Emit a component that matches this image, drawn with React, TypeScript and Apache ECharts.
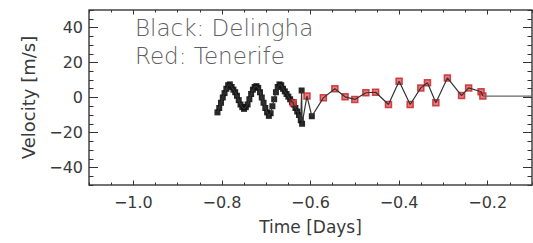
import React, { useEffect, useRef } from "react";
import * as echarts from "echarts";

// Delingha (black) observations: time [days], velocity [m/s]
const delinghaTime = [
  -0.81, -0.806, -0.802, -0.798, -0.794, -0.79, -0.786, -0.782, -0.778, -0.774,
  -0.77, -0.766, -0.762, -0.758, -0.754, -0.75, -0.746, -0.742, -0.738, -0.734,
  -0.73, -0.726, -0.722, -0.718, -0.714, -0.71, -0.706, -0.702, -0.698, -0.694,
  -0.69, -0.686, -0.682, -0.678, -0.674, -0.67, -0.666, -0.662, -0.658, -0.654,
  -0.65, -0.646, -0.642, -0.638, -0.634, -0.63, -0.626, -0.622, -0.62, -0.619,
  -0.597,
];
const delinghaVel = [
  -8.5, -6, -3, 0, 2.5, 5, 7, 7.5, 6, 4.5,
  3, 1, -1.5, -4, -5.5, -6.5, -5.5, -4, -1, 2,
  4.5, 6, 6.5, 5.5, 3, 0, -3, -6, -8.5, -10.5,
  -9, -5, -1, 3, 6, 7.5, 7, 5, 3.5, 2,
  0.5, -1, -2.5, -4, -6, -8, -10, -13, 4, -15,
  -10.7,
];

// Tenerife (red) observations
const tenerifeTime = [
  -0.639, -0.608, -0.571, -0.545, -0.522, -0.5, -0.475, -0.453, -0.424, -0.4,
  -0.375, -0.351, -0.336, -0.317, -0.291, -0.259, -0.243, -0.215, -0.211,
];
const tenerifeVel = [
  -3, 0.8, -0.2, 5, 0.4, -1.1, 2.7, 3, -4, 9.3,
  -4, 5.5, 8.4, -3, 11.2, 1.1, 5.5, 3.3, 0.8,
];

// flat continuation to the right edge
const tailTime = [-0.211, -0.1];
const tailVel = [0.8, 0.8];

const xMajorTicks = [-1.0, -0.8, -0.6, -0.4, -0.2];
const yMajorTicks = [-40, -20, 0, 20, 40];

const FONT = '"DejaVu Sans", sans-serif';

export default function App() {
  const ref = useRef<HTMLDivElement>(null);
  useEffect(() => {
    if (!ref.current) return;
    const chart = echarts.init(ref.current, undefined, { renderer: "svg" });
    const zip = (t: number[], v: number[]) => t.map((x, i) => [x, v[i]]);
    const delingha = zip(delinghaTime, delinghaVel);
    const tenerife = zip(tenerifeTime, tenerifeVel);
    const combined = [...delingha, ...tenerife].sort((a, b) => a[0] - b[0]);
    const tickColor = "#333";
    const fmt = (v: number) => v.toFixed(1).replace("-", "\u2212");
    const baseX = { type: "value", min: -1.1, max: -0.1, splitLine: { show: false }, axisLine: { show: false, onZero: false } };
    const baseY = { type: "value", min: -50, max: 50, splitLine: { show: false }, axisLine: { show: false, onZero: false } };
    chart.setOption({
      animation: false,
      grid: {
        left: 89, top: 10, width: 443, height: 175,
        show: true, borderColor: "#444", borderWidth: 1.5, backgroundColor: "transparent",
      },
      xAxis: [
        {
          ...baseX, position: "bottom",
          axisTick: { show: true, inside: true, length: 4.5, customValues: xMajorTicks, lineStyle: { color: tickColor } },
          axisLabel: { customValues: xMajorTicks, formatter: fmt, fontFamily: FONT, fontSize: 16, color: "#3a3a3a", margin: 9 },
          name: "Time [Days]", nameLocation: "middle", nameGap: 33,
          nameTextStyle: { fontFamily: FONT, fontSize: 17, color: "#3a3a3a" },
        },
        {
          ...baseX, position: "bottom", interval: 0.05,
          axisTick: { show: true, inside: true, length: 2.5, lineStyle: { color: tickColor } },
          axisLabel: { show: false },
        },
        {
          ...baseX, position: "top",
          axisTick: { show: true, inside: true, length: 4.5, customValues: xMajorTicks, lineStyle: { color: tickColor } },
          axisLabel: { show: false },
        },
        {
          ...baseX, position: "top", interval: 0.05,
          axisTick: { show: true, inside: true, length: 2.5, lineStyle: { color: tickColor } },
          axisLabel: { show: false },
        },
      ],
      yAxis: [
        {
          ...baseY, position: "left",
          axisTick: { show: true, inside: true, length: 9, customValues: yMajorTicks, lineStyle: { color: tickColor } },
          axisLabel: { customValues: yMajorTicks, formatter: (v: number) => String(v).replace("-", "\u2212"), fontFamily: FONT, fontSize: 16, color: "#3a3a3a", margin: 6 },
          name: "Velocity [m/s]", nameLocation: "middle", nameGap: 52, nameRotate: 90,
          nameTextStyle: { fontFamily: FONT, fontSize: 18, color: "#3a3a3a" },
        },
        {
          ...baseY, position: "left", interval: 5,
          axisTick: { show: true, inside: true, length: 4.5, lineStyle: { color: tickColor } },
          axisLabel: { show: false },
        },
        {
          ...baseY, position: "right",
          axisTick: { show: true, inside: true, length: 9, customValues: yMajorTicks, lineStyle: { color: tickColor } },
          axisLabel: { show: false },
        },
        {
          ...baseY, position: "right", interval: 5,
          axisTick: { show: true, inside: true, length: 4.5, lineStyle: { color: tickColor } },
          axisLabel: { show: false },
        },
      ],
      series: [
        {
          type: "line", data: combined, showSymbol: false, silent: true,
          lineStyle: { color: "#333", width: 1.2 },
        },
        {
          type: "line", data: zip(tailTime, tailVel), showSymbol: false, silent: true,
          lineStyle: { color: "#666", width: 1.2 },
        },
        {
          type: "scatter", name: "Delingha", data: delingha, symbol: "rect", symbolSize: 6,
          itemStyle: { color: "#111", opacity: 0.9 },
        },
        {
          type: "scatter", name: "Tenerife", data: tenerife, symbol: "rect", symbolSize: 6,
          itemStyle: { color: "#e05a5a", borderColor: "#c81e24", borderWidth: 1.5 },
        },
      ],
      graphic: [
        { type: "text", left: 135, top: 16, style: { text: "Black: Delingha", font: `200 23px ${FONT}`, fill: "#606060" } },
        { type: "text", left: 135, top: 44, style: { text: "Red: Tenerife", font: `200 23px ${FONT}`, fill: "#606060" } },
      ],
    });
    return () => chart.dispose();
  }, []);
  return (
    <div
      ref={ref}
      style={{ position: "fixed", left: 0, top: 0, width: 533, height: 243, background: "#fff" }}
    />
  );
}
